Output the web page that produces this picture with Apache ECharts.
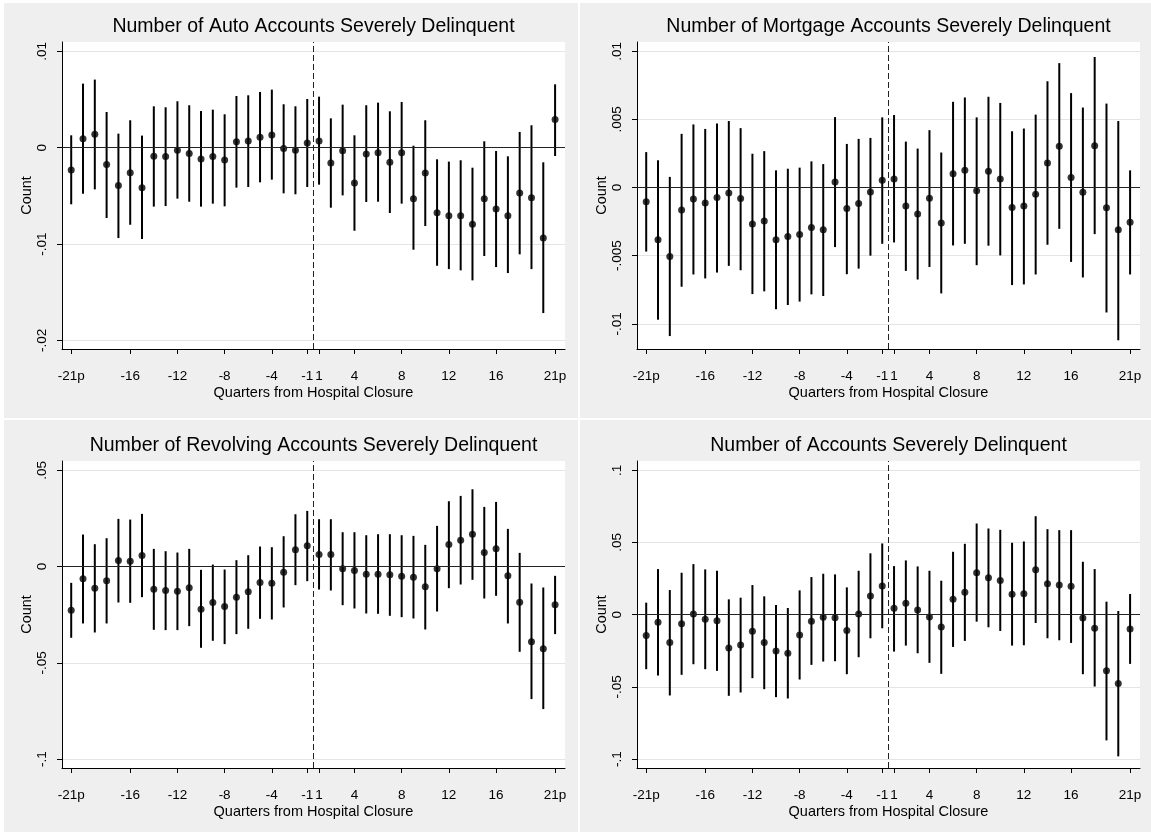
<!DOCTYPE html>
<html>
<head>
<meta charset="utf-8">
<script src="https://cdn.jsdelivr.net/npm/echarts@6/dist/echarts.min.js"></script>
<style>html,body{margin:0;padding:0;background:#fff}#c{width:1151px;height:835px}</style>
</head>
<body>
<div id="c"></div>
<script>
// ---------------- data ----------------
const quarters = [-21,-20,-19,-18,-17,-16,-15,-14,-13,-12,-11,-10,-9,-8,-7,-6,-5,-4,-3,-2,-1,
                  1,2,3,4,5,6,7,8,9,10,11,12,13,14,15,16,17,18,19,20,21];
const xTickQuarters = [-21,-16,-12,-8,-4,-1,1,4,8,12,16,21];
const xTickLabels = ['-21p','-16','-12','-8','-4','-1','1','4','8','12','16','21p'];
const xAxisTitle = 'Quarters from Hospital Closure';
const yAxisTitle = 'Count';

// Auto
const autoTitle = 'Number of Auto Accounts Severely Delinquent';
const autoYTicks = [0.01, 0, -0.01, -0.02];
const autoYLabels = ['.01', '0', '-.01', '-.02'];
const autoEst = [-0.00232,0.00093,0.00138,-0.00176,-0.00394,-0.0026,-0.00415,-0.0009,-0.00093,-0.00028,-0.00062,-0.00118,-0.00093,-0.00128,0.00062,0.00069,0.00107,0.00131,-0.0001,-0.00028,0.00048,
                 0.00069,-0.00159,-0.00031,-0.00367,-0.00066,-0.00052,-0.00152,-0.00052,-0.00529,-0.00263,-0.00675,-0.00706,-0.00706,-0.00796,-0.00529,-0.00637,-0.00706,-0.00471,-0.00519,-0.00938,0.00291];
const autoHi = [0.00128,0.00664,0.00706,0.0037,0.00145,0.00284,0.00125,0.00429,0.00419,0.00481,0.0044,0.0038,0.00394,0.00346,0.00536,0.00543,0.00578,0.00602,0.0045,0.00429,0.00505,
                0.00529,0.00304,0.00446,0.00128,0.0044,0.00467,0.00377,0.00474,0.0002,0.00284,-0.00121,-0.00145,-0.00131,-0.00208,0.00066,-0.00035,-0.0009,0.00163,0.00232,-0.00152,0.00657];
const autoLo = [-0.00588,-0.00478,-0.00433,-0.0073,-0.00938,-0.008,-0.00948,-0.00612,-0.00606,-0.00529,-0.00561,-0.00612,-0.00581,-0.00609,-0.00415,-0.00408,-0.0036,-0.00332,-0.00474,-0.00484,-0.00408,
                -0.00384,-0.00623,-0.00495,-0.00862,-0.00564,-0.00561,-0.00678,-0.00581,-0.01059,-0.00813,-0.01225,-0.0126,-0.01273,-0.01377,-0.01124,-0.01239,-0.01301,-0.01107,-0.0126,-0.01716,-0.00087];

// Mortgage
const mortTitle = 'Number of Mortgage Accounts Severely Delinquent';
const mortYTicks = [0.01, 0.005, 0, -0.005, -0.01];
const mortYLabels = ['.01', '.005', '0', '-.005', '-.01'];
const mortEst = [-0.00104,-0.00383,-0.00507,-0.00165,-0.00085,-0.00114,-0.00073,-0.00041,-0.0008,-0.00267,-0.00245,-0.00383,-0.00359,-0.00345,-0.00294,-0.0031,0.00041,-0.00153,-0.00117,-0.00032,0.00053,
                 0.00063,-0.00136,-0.00194,-0.00078,-0.0026,0.00102,0.00126,-0.00024,0.00119,0.00063,-0.00146,-0.00136,-0.00049,0.0018,0.00303,0.00073,-0.00034,0.00306,-0.00148,-0.0031,-0.00255];
const mortHi = [0.0026,0.002,0.00078,0.00394,0.00463,0.0043,0.0047,0.00488,0.00436,0.00248,0.00267,0.00126,0.00138,0.00146,0.00192,0.00172,0.00517,0.0032,0.00357,0.00364,0.00515,
                0.00532,0.00337,0.00286,0.00421,0.00257,0.00629,0.00661,0.00515,0.00666,0.00621,0.00413,0.00433,0.00535,0.0078,0.00913,0.00693,0.00587,0.00958,0.00616,0.00488,0.00126];
const mortLo = [-0.0047,-0.0097,-0.0109,-0.00728,-0.00638,-0.00667,-0.00624,-0.00575,-0.00607,-0.00782,-0.00762,-0.00893,-0.00862,-0.00837,-0.00784,-0.00796,-0.00437,-0.00636,-0.00595,-0.005,-0.00413,
                -0.00403,-0.00612,-0.00675,-0.00583,-0.00777,-0.00425,-0.00413,-0.0057,-0.00427,-0.00498,-0.00716,-0.00711,-0.00638,-0.0042,-0.00303,-0.00546,-0.0066,-0.00342,-0.00917,-0.01121,-0.00638];

// Revolving
const revTitle = 'Number of Revolving Accounts Severely Delinquent';
const revYTicks = [0.05, 0, -0.05, -0.1];
const revYLabels = ['.05', '0', '-.05', '-.1'];
const revEst = [-0.02266,-0.0064,-0.01125,-0.00744,0.00311,0.00277,0.00571,-0.01176,-0.01246,-0.0128,-0.01107,-0.02215,-0.01869,-0.02076,-0.01592,-0.01315,-0.0083,-0.00865,-0.00294,0.0087,0.01073,
                0.00623,0.00623,-0.00121,-0.00208,-0.00398,-0.00398,-0.00433,-0.00502,-0.00554,-0.01055,-0.00121,0.01142,0.01367,0.01678,0.00727,0.00917,-0.00484,-0.01851,-0.0391,-0.04273,-0.0199];
const revHi = [-0.00848,0.01661,0.01159,0.01471,0.02474,0.02439,0.02734,0.00917,0.00796,0.00727,0.00917,-0.00173,0.001,-0.00156,0.00329,0.00588,0.01038,0.01003,0.01574,0.02716,0.02889,
               0.02457,0.02457,0.01782,0.01782,0.01626,0.01678,0.01678,0.01626,0.01592,0.01125,0.02111,0.03391,0.03668,0.04014,0.03097,0.03356,0.01955,0.00709,-0.00882,-0.0109,-0.00484];
const revLo = [-0.03702,-0.02958,-0.03426,-0.02958,-0.01869,-0.01886,-0.01592,-0.03287,-0.03304,-0.03304,-0.03097,-0.04221,-0.03858,-0.04031,-0.03512,-0.03235,-0.02716,-0.02751,-0.02128,-0.00969,-0.00761,
               -0.01194,-0.01246,-0.02007,-0.0218,-0.0244,-0.02457,-0.0256,-0.0263,-0.02699,-0.0327,-0.02336,-0.01125,-0.00934,-0.00692,-0.01661,-0.01522,-0.02958,-0.04429,-0.06886,-0.07405,-0.03512];

// All accounts
const allTitle = 'Number of Accounts Severely Delinquent';
const allYTicks = [0.1, 0.05, 0, -0.05, -0.1];
const allYLabels = ['.1', '.05', '0', '-.05', '-.1'];
const allEst = [-0.01452,-0.0053,-0.01935,-0.00622,0.00046,-0.00323,-0.00415,-0.02304,-0.02097,-0.01152,-0.01935,-0.02512,-0.02673,-0.01406,-0.00461,-0.00184,-0.00207,-0.01106,0.00046,0.0129,0.01982,
                0.00438,0.00783,0.00323,-0.00161,-0.00853,0.0106,0.01544,0.02903,0.02558,0.02373,0.01406,0.01452,0.03111,0.02143,0.02051,0.01959,-0.0023,-0.00945,-0.03894,-0.0477,-0.00991];
const allHi = [0.0083,0.03157,0.01705,0.02903,0.03502,0.03134,0.03041,0.0106,0.01175,0.02051,0.01267,0.00668,0.00461,0.01682,0.02604,0.02834,0.02788,0.01889,0.03041,0.0425,0.04931,
               0.03364,0.03756,0.03341,0.03041,0.0235,0.04355,0.04908,0.06313,0.05968,0.05876,0.04977,0.05069,0.0682,0.05922,0.05853,0.05853,0.03664,0.03157,0.00899,0.00253,0.01429];
const allLo = [-0.03779,-0.04217,-0.05599,-0.0417,-0.03433,-0.03779,-0.03894,-0.05622,-0.05392,-0.04401,-0.05161,-0.05714,-0.05806,-0.04493,-0.03479,-0.03249,-0.03226,-0.04124,-0.02949,-0.01636,-0.00945,
               -0.02558,-0.02143,-0.02673,-0.03341,-0.04101,-0.02235,-0.0182,-0.00484,-0.00876,-0.01129,-0.02143,-0.0212,-0.00576,-0.01636,-0.01774,-0.01959,-0.04124,-0.04977,-0.0871,-0.09816,-0.0341];

// ---------------- layout ----------------
const FONT = 'Liberation Sans, Arial, Helvetica, sans-serif';
const panels = [
  {title: autoTitle, est: autoEst, lo: autoLo, hi: autoHi, ticks: autoYTicks, labels: autoYLabels, yMin: -0.02089, yMax: 0.01096, left: 62, top: 42},
  {title: mortTitle, est: mortEst, lo: mortLo, hi: mortHi, ticks: mortYTicks, labels: mortYLabels, yMin: -0.01185, yMax: 0.01068, left: 637, top: 42},
  {title: revTitle,  est: revEst,  lo: revLo,  hi: revHi,  ticks: revYTicks,  labels: revYLabels,  yMin: -0.10466, yMax: 0.05481, left: 62, top: 461},
  {title: allTitle,  est: allEst,  lo: allLo,  hi: allHi,  ticks: allYTicks,  labels: allYLabels,  yMin: -0.10622, yMax: 0.10643, left: 637, top: 461}
];
const GW = 503, GH = 307;
const xPos = quarters.map((q, i) => i);
const xTickPos = xTickQuarters.map(q => quarters.indexOf(q));
const closureLine = (quarters.indexOf(-1) + quarters.indexOf(1)) / 2;

const option = {
  backgroundColor: '#ffffff',
  animation: false,
  textStyle: {fontFamily: FONT},
  graphic: [
    {type: 'rect', z: -10, shape: {x: 4, y: 3, width: 574, height: 415}, style: {fill: '#efefef'}},
    {type: 'rect', z: -10, shape: {x: 580, y: 3, width: 571, height: 415}, style: {fill: '#efefef'}},
    {type: 'rect', z: -10, shape: {x: 4, y: 420, width: 574, height: 412}, style: {fill: '#efefef'}},
    {type: 'rect', z: -10, shape: {x: 580, y: 420, width: 571, height: 412}, style: {fill: '#efefef'}}
  ],
  title: [], grid: [], xAxis: [], yAxis: [], series: []
};

panels.forEach((p, k) => {
  option.title.push({
    text: p.title, left: p.left + GW / 2, top: p.top - 25, textAlign: 'center', padding: 0,
    textStyle: {fontFamily: FONT, fontSize: 19.5, fontWeight: 'normal', color: '#000'}
  });
  option.grid.push({left: p.left, top: p.top, width: GW, height: GH, show: true,
                    backgroundColor: '#ffffff', borderWidth: 0, containLabel: false});
  option.xAxis.push({
    gridIndex: k, type: 'value', min: -0.78, max: 41.84,
    axisLine: {show: true, onZero: false, lineStyle: {color: '#000', width: 1}},
    axisTick: {show: true, length: 5, customValues: xTickPos, lineStyle: {color: '#000'}},
    axisLabel: {customValues: xTickPos, margin: 20, fontSize: 13.5, color: '#000', fontFamily: FONT,
                formatter: v => xTickLabels[xTickPos.indexOf(Math.round(v))]},
    splitLine: {show: false},
    name: xAxisTitle, nameLocation: 'middle', nameGap: 36,
    nameTextStyle: {fontSize: 14.5, color: '#000', fontFamily: FONT}
  });
  option.yAxis.push({
    gridIndex: k, type: 'value', min: p.yMin, max: p.yMax,
    axisLine: {show: true, onZero: false, lineStyle: {color: '#000', width: 1}},
    axisTick: {show: true, length: 5, customValues: p.ticks, lineStyle: {color: '#000'}},
    axisLabel: {customValues: p.ticks, rotate: 90, margin: 13, fontSize: 13.5, color: '#000', fontFamily: FONT,
                formatter: v => { const j = p.ticks.findIndex(t => Math.abs(t - v) < 1e-9); return j >= 0 ? p.labels[j] : ''; }},
    splitLine: {show: true, lineStyle: {color: '#e4e4e4', width: 1}},
    name: yAxisTitle, nameLocation: 'middle', nameGap: 25,
    nameTextStyle: {fontSize: 14.5, color: '#000', fontFamily: FONT}
  });
  // confidence intervals
  option.series.push({
    type: 'custom', xAxisIndex: k, yAxisIndex: k, silent: true,
    data: xPos.map((x, i) => [x, p.lo[i], p.hi[i]]),
    encode: {x: 0, y: [1, 2]},
    renderItem: (params, api) => {
      const a = api.coord([api.value(0), api.value(1)]);
      const b = api.coord([api.value(0), api.value(2)]);
      return {type: 'line', shape: {x1: a[0], y1: a[1], x2: b[0], y2: b[1]},
              style: {stroke: '#000', lineWidth: 2}};
    },
    z: 3
  });
  // point estimates + reference lines
  option.series.push({
    type: 'scatter', xAxisIndex: k, yAxisIndex: k, silent: true,
    data: xPos.map((x, i) => [x, p.est[i]]),
    symbol: 'circle', symbolSize: 7, itemStyle: {color: '#000'}, z: 4,
    markLine: {
      silent: true, symbol: 'none', label: {show: false}, animation: false,
      data: [
        {yAxis: 0, lineStyle: {color: '#222', width: 1, type: 'solid'}},
        {xAxis: closureLine, lineStyle: {color: '#222', width: 1, type: [6, 3]}}
      ]
    }
  });
});

const chart = echarts.init(document.getElementById('c'), null, {renderer: 'canvas'});
chart.setOption(option);
</script>
</body>
</html>
